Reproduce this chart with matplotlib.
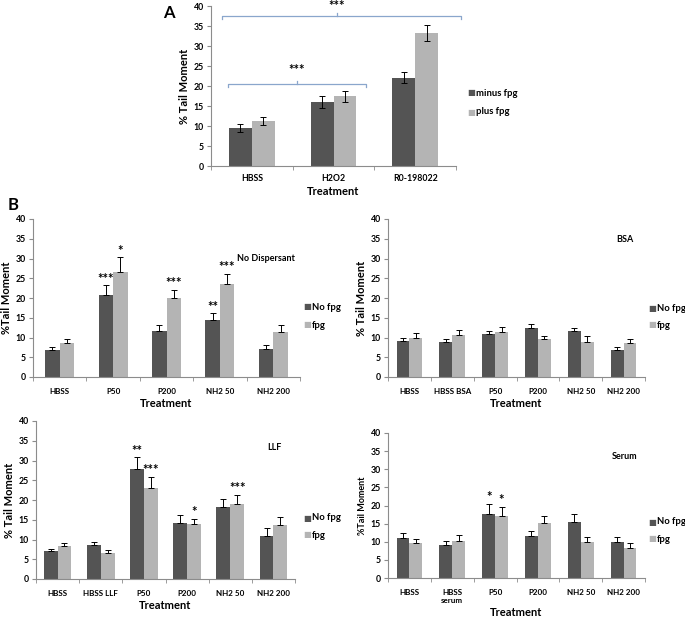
import numpy as np
import matplotlib.pyplot as plt

plt.rcParams['font.family'] = ['Lato', 'DejaVu Sans']
plt.rcParams['font.weight'] = 'bold'

DARK = '#545454'
LIGHT = '#b4b4b4'
SPINE = '#8c8c8c'

# panel A
a_cats = ['HBSS', 'H2O2', 'R0-198022']
a_minus = [9.6, 16.0, 22.1]
a_minus_err = [1.0, 1.4, 1.4]
a_plus = [11.2, 17.4, 33.3]
a_plus_err = [1.0, 1.3, 2.0]

# panel B - no dispersant
nd_cats = ['HBSS', 'P50', 'P200', 'NH2 50', 'NH2 200']
nd_no = [6.8, 20.8, 11.6, 14.4, 7.2]
nd_no_err = [0.8, 2.4, 1.5, 1.7, 0.9]
nd_fpg = [8.7, 26.5, 20.0, 23.5, 11.5]
nd_fpg_err = [1.0, 3.8, 2.1, 2.7, 1.6]
nd_no_sig = ['', '***', '', '**', '']
nd_fpg_sig = ['', '*', '***', '***', '']

# BSA
bsa_cats = ['HBSS', 'HBSS BSA', 'P50', 'P200', 'NH2 50', 'NH2 200']
bsa_no = [9.1, 8.9, 10.8, 12.3, 11.6, 6.8]
bsa_no_err = [0.8, 0.8, 0.8, 1.0, 0.8, 0.8]
bsa_fpg = [10.0, 10.7, 11.5, 9.5, 8.8, 8.6]
bsa_fpg_err = [1.1, 1.2, 1.1, 0.8, 1.7, 1.1]

# LLF
llf_cats = ['HBSS', 'HBSS LLF', 'P50', 'P200', 'NH2 50', 'NH2 200']
llf_no = [7.0, 8.5, 27.8, 14.2, 18.2, 11.0]
llf_no_err = [0.7, 0.9, 3.0, 2.1, 2.0, 1.8]
llf_fpg = [8.4, 6.6, 23.0, 13.9, 19.0, 13.7]
llf_fpg_err = [0.7, 0.8, 2.8, 1.4, 2.2, 2.0]
llf_no_sig = ['', '', '**', '', '', '']
llf_fpg_sig = ['', '', '***', '*', '***', '']

# Serum
ser_cats = ['HBSS', 'HBSS\nserum', 'P50', 'P200', 'NH2 50', 'NH2 200']
ser_no = [11.1, 9.2, 17.7, 11.5, 15.4, 10.0]
ser_no_err = [1.4, 1.0, 2.7, 1.4, 2.2, 1.2]
ser_fpg = [9.6, 10.3, 17.0, 15.1, 9.8, 8.4]
ser_fpg_err = [1.1, 1.5, 2.6, 2.1, 1.6, 1.3]
ser_no_sig = ['', '', '*', '', '', '']
ser_fpg_sig = ['', '', '*', '', '', '']


def px(l, r, b, t):
    # pixel box -> figure fraction
    return [l / 685, 1 - b / 620, (r - l) / 685, (b - t) / 620]


def style_axes(ax, cats, ylabel, ylabel_size=8, ylabel_weight='bold'):
    n = len(cats)
    ax.set_xlim(-0.5, n - 0.5)
    ax.set_ylim(0, 40)
    ax.set_yticks(range(0, 41, 5))
    ax.set_yticklabels([str(v) for v in range(0, 41, 5)], fontsize=6.3, fontweight='bold')
    ax.set_xticks(range(n))
    ax.set_xticklabels(cats, fontsize=5.8, fontweight='bold')
    ax.set_xticks(np.arange(-0.5, n, 1), minor=True)
    ax.tick_params(axis='x', which='major', length=0, pad=8)
    ax.tick_params(axis='x', which='minor', length=3, color=SPINE)
    ax.tick_params(axis='y', length=3, color=SPINE, pad=2)
    for s in ['top', 'right']:
        ax.spines[s].set_visible(False)
    for s in ['left', 'bottom']:
        ax.spines[s].set_color(SPINE)
        ax.spines[s].set_linewidth(0.8)
    ax.set_xlabel('Treatment', fontsize=8, fontweight='bold', labelpad=2)
    ax.set_ylabel(ylabel, fontsize=ylabel_size, fontweight=ylabel_weight, labelpad=3)


def bars(ax, no, no_err, fpg, fpg_err, labels, both=False, w=0.27):
    x = np.arange(len(no))
    if both:
        e1, e2 = no_err, fpg_err
    else:
        e1 = [np.zeros(len(no)), no_err]
        e2 = [np.zeros(len(fpg)), fpg_err]
    ek = dict(ecolor='black', elinewidth=0.7, capsize=2, capthick=0.7)
    ax.bar(x - w / 2, no, w, color=DARK, yerr=e1, error_kw=ek, label=labels[0])
    ax.bar(x + w / 2, fpg, w, color=LIGHT, yerr=e2, error_kw=ek, label=labels[1])
    return x, w


def stars(ax, x, vals, errs, sig):
    for xi, v, e, s in zip(x, vals, errs, sig):
        if s:
            ax.text(xi, v + e + 0.2, s, ha='center', va='bottom', fontsize=9.5,
                    fontweight='bold', color='black')


def legend(ax, labels, x, y, dy):
    for i, (lab, c) in enumerate(zip(labels, [DARK, LIGHT])):
        fig.text(x / 685, 1 - (y + i * dy) / 620, '\u25a0', color=c, fontsize=6,
                 va='center', ha='left')
        fig.text((x + 9) / 685, 1 - (y + i * dy) / 620, lab, fontsize=6.8,
                 fontweight='bold', va='center', ha='left')


fig = plt.figure(figsize=(6.85, 6.2), dpi=100)

# ---------- A ----------
axA = fig.add_axes(px(211, 456, 166, 6))
style_axes(axA, a_cats, '% Tail Moment')
axA.tick_params(axis='x', which='major', pad=6)
axA.set_xticklabels(a_cats, fontsize=6.3, fontweight='bold')
xA, wA = bars(axA, a_minus, a_minus_err, a_plus, a_plus_err,
              ['minus fpg', 'plus fpg'], both=True, w=0.28)
bc = '#8aa6cc'
# brackets
for x0, x1, xm, yb, ys in [(-0.36, 2.56, 1.04, 37.5, 41.6), (-0.29, 1.40, 0.55, 20.5, 25.5)]:
    axA.plot([x0, x0, x1, x1], [yb - 0.8, yb, yb, yb - 0.8], color=bc, lw=0.9, clip_on=False)
    axA.plot([xm, xm], [yb, yb + 0.8], color=bc, lw=0.9, clip_on=False)
    axA.text(xm, ys, '***', ha='center', va='top', fontsize=9.5, fontweight='bold')
legend(axA, ['minus fpg', 'plus fpg'], 467, 93, 19)
fig.text(163 / 685, 1 - 13 / 620, 'A', fontsize=12, fontweight='bold', va='center')
fig.text(8 / 685, 1 - 205 / 620, 'B', fontsize=12, fontweight='bold', va='center')

# ---------- No dispersant ----------
ax1 = fig.add_axes(px(33, 300, 377, 219))
style_axes(ax1, nd_cats, '%Tail Moment')
x1, w1 = bars(ax1, nd_no, nd_no_err, nd_fpg, nd_fpg_err, ['No fpg', 'fpg'], w=0.27)
stars(ax1, x1 - w1 / 2, nd_no, nd_no_err, nd_no_sig)
stars(ax1, x1 + w1 / 2, nd_fpg, nd_fpg_err, nd_fpg_sig)
ax1.text(0.98, 0.75, 'No Dispersant', transform=ax1.transAxes, ha='right',
         va='center', fontsize=6.5, fontweight='bold')
legend(ax1, ['No fpg', 'fpg'], 303, 307, 18)

# ---------- BSA ----------
ax2 = fig.add_axes(px(388, 645, 377, 219))
style_axes(ax2, bsa_cats, '% Tail Moment')
bars(ax2, bsa_no, bsa_no_err, bsa_fpg, bsa_fpg_err, ['No fpg', 'fpg'], w=0.3)
ax2.text(0.92, 0.87, 'BSA', transform=ax2.transAxes, ha='center',
         va='center', fontsize=6.5, fontweight='bold')
legend(ax2, ['No fpg', 'fpg'], 648, 308, 17)

# ---------- LLF ----------
ax3 = fig.add_axes(px(36, 295, 579, 421))
style_axes(ax3, llf_cats, '% Tail Moment')
x3, w3 = bars(ax3, llf_no, llf_no_err, llf_fpg, llf_fpg_err, ['No fpg', 'fpg'], w=0.32)
stars(ax3, x3 - w3 / 2, llf_no, llf_no_err, llf_no_sig)
stars(ax3, x3 + w3 / 2, llf_fpg, llf_fpg_err, llf_fpg_sig)
ax3.text(0.92, 0.83, 'LLF', transform=ax3.transAxes, ha='center',
         va='center', fontsize=6.5, fontweight='bold')
legend(ax3, ['No fpg', 'fpg'], 303, 518, 17)

# ---------- Serum ----------
ax4 = fig.add_axes(px(388, 645, 578, 433))
style_axes(ax4, ser_cats, '%Tail Moment', ylabel_size=6.5)
x4, w4 = bars(ax4, ser_no, ser_no_err, ser_fpg, ser_fpg_err, ['No fpg', 'fpg'], w=0.3)
stars(ax4, x4 - w4 / 2, ser_no, ser_no_err, ser_no_sig)
stars(ax4, x4 + w4 / 2, ser_fpg, ser_fpg_err, ser_fpg_sig)
ax4.text(0.92, 0.84, 'Serum', transform=ax4.transAxes, ha='center',
         va='center', fontsize=6.5, fontweight='bold')
legend(ax4, ['No fpg', 'fpg'], 648, 522, 17)

fig.savefig('out.png', dpi=100, facecolor='white')
